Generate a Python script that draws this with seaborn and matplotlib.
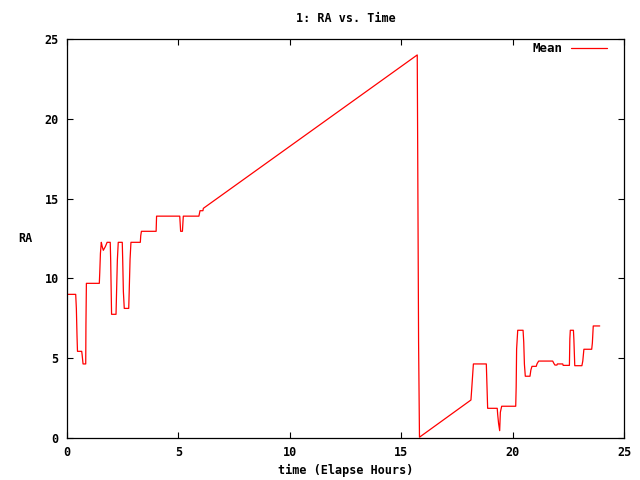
"""RA vs. Time line chart (gnuplot look) with seaborn"""

import matplotlib
matplotlib.use("Agg")
import matplotlib.pyplot as plt
import seaborn as sns
import pandas as pd

# elapsed time in hours and RA values
elapsed_hours = [
    0.00, 0.39, 0.42, 0.45, 0.47, 0.66, 0.68, 0.72, 0.84, 0.85, 0.87,
    1.45, 1.47, 1.50, 1.54, 1.58, 1.63, 1.72, 1.80, 1.94, 1.96, 2.00,
    2.20, 2.22, 2.26, 2.30, 2.48, 2.50, 2.53, 2.57, 2.77, 2.79, 2.83,
    2.87, 3.29, 3.31, 3.34, 4.00, 4.02, 5.06, 5.10, 5.18, 5.22, 5.92,
    5.97, 6.10, 6.12, 15.72, 15.74, 15.78, 15.82, 18.13, 18.16, 18.24,
    18.82, 18.85, 18.88, 19.31, 19.33, 19.37, 19.42, 19.45, 19.51, 20.14,
    20.16, 20.18, 20.23, 20.47, 20.50, 20.53, 20.57, 20.78, 20.82, 20.87,
    21.06, 21.10, 21.17, 21.80, 21.85, 21.90, 21.99, 22.01, 22.25, 22.27,
    22.55, 22.57, 22.59, 22.73, 22.75, 22.79, 23.11, 23.15, 23.20, 23.55,
    23.58, 23.62, 23.91,
]
ra_mean = [
    9.00, 9.00, 8.10, 6.35, 5.43, 5.43, 5.20, 4.64, 4.64, 7.10, 9.69,
    9.69, 10.36, 11.57, 12.26, 11.99, 11.76, 11.99, 12.26, 12.26, 11.15, 7.75,
    7.75, 8.90, 11.15, 12.26, 12.26, 11.15, 9.17, 8.12, 8.12, 9.10, 11.20,
    12.26, 12.26, 12.68, 12.95, 12.95, 13.90, 13.90, 12.95, 12.95, 13.90, 13.90,
    14.24, 14.24, 14.39, 24.00, 18.10, 6.00, 0.05, 2.38, 2.97, 4.64,
    4.64, 3.26, 1.86, 1.86, 1.48, 0.92, 0.46, 1.61, 1.99, 1.99,
    3.19, 5.58, 6.75, 6.75, 6.00, 4.62, 3.87, 3.87, 4.26, 4.49,
    4.49, 4.66, 4.82, 4.82, 4.68, 4.57, 4.57, 4.64, 4.64, 4.55,
    4.55, 6.22, 6.75, 6.75, 6.18, 4.53, 4.53, 4.82, 5.56, 5.56,
    5.95, 7.02, 7.02,
]
x_ticks = [0, 5, 10, 15, 20, 25]
y_ticks = [0, 5, 10, 15, 20, 25]


def make_plot(df):
    sns.set_style("ticks")
    plt.rcParams["font.family"] = ["DejaVu Sans Mono", "DejaVu Sans"]
    plt.rcParams["font.weight"] = "bold"
    plt.rcParams["text.color"] = "black"
    plt.rcParams["axes.labelcolor"] = "black"

    fig = plt.figure(figsize=(6.4, 4.8), dpi=100)
    ax = fig.add_axes([0.1047, 0.0875, 0.8703, 0.8313])

    sns.lineplot(data=df, x="time", y="RA", sort=False, estimator=None,
                 color="#ff0000", linewidth=0.9, label="Mean", ax=ax)

    ax.set_xlim(0, 25)
    ax.set_ylim(0, 25)
    ax.set_xticks(x_ticks)
    ax.set_yticks(y_ticks)
    ax.tick_params(direction="in", length=4.5, width=0.8, labelsize=8.5,
                   top=True, right=True, pad=6, colors="black")
    for sp in ax.spines.values():
        sp.set_visible(True)
        sp.set_linewidth(0.9)
        sp.set_color("black")

    ax.set_title("1: RA vs. Time", fontsize=8.5, fontweight="bold", pad=12,
                 color="black")
    ax.set_xlabel("time (Elapse Hours)", fontsize=8.5, fontweight="bold",
                  labelpad=3)
    ax.set_ylabel("RA", fontsize=8.5, fontweight="bold", rotation=0,
                  labelpad=14, va="center")

    leg = ax.legend(loc="upper right", frameon=False, markerfirst=False,
                    handlelength=2.9, handletextpad=0.7, fontsize=9,
                    bbox_to_anchor=(0.99, 1.02))
    for t in leg.get_texts():
        t.set_fontweight("bold")
        t.set_color("black")

    fig.savefig("out.png", dpi=100)


if __name__ == "__main__":
    data = pd.DataFrame({"time": elapsed_hours, "RA": ra_mean})
    make_plot(data)
